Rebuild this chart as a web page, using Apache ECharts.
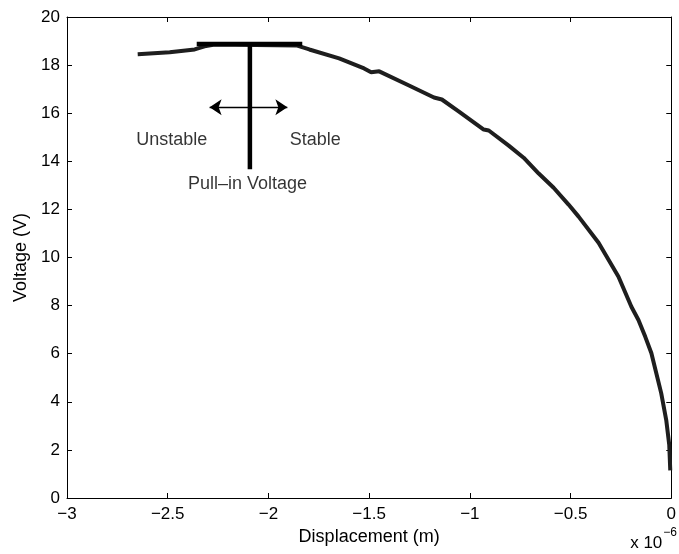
<!DOCTYPE html>
<html><head><meta charset="utf-8">
<script src="https://cdn.jsdelivr.net/npm/echarts@6/dist/echarts.min.js"></script>
<style>html,body{margin:0;padding:0;background:#fff}#c{width:679px;height:554px}</style>
</head><body><div id="c"></div>
<script>
// Displacement in units of 1e-6 m
const dispX = [-2.649,-2.49,-2.366,-2.317,-2.267,-1.861,-1.797,-1.649,-1.525,-1.49,-1.45,-1.302,-1.178,-1.139,-1.054,-0.931,-0.906,-0.807,-0.733,-0.658,-0.584,-0.51,-0.46,-0.361,-0.262,-0.198,-0.163,-0.129,-0.099,-0.05,-0.025,-0.01,-0.005];
const voltY = [18.45,18.53,18.65,18.78,18.86,18.82,18.65,18.28,17.86,17.7,17.74,17.15,16.65,16.57,16.07,15.32,15.28,14.65,14.15,13.49,12.9,12.2,11.7,10.61,9.2,7.95,7.4,6.7,6.03,4.36,3.24,2.2,1.15];
const barX = [-2.356, -1.832];
const barY = 18.875;
const stemX = -2.092;
const stemY = [18.875, 13.67];
const arrowX = [-2.292, -1.906];
const arrowY = 16.25;
const labelText = ['Unstable', 'Stable', 'Pull\u2013in Voltage'];
const labelX = [-2.48, -1.767, -2.104];
const labelY = [14.9, 14.9, 13.07];
const xTicks = {min:-3, max:0, interval:0.5};
const yTicks = {min:0, max:20, interval:2};

const font = 'Liberation Sans, Arial, sans-serif';
const fmt = v => String(+v.toFixed(2)).replace('-', '\u2212');
const axisCommon = {
  axisLine:{show:true, onZero:false, lineStyle:{color:'#000', width:1}},
  axisTick:{show:true, inside:true, length:5, lineStyle:{color:'#000'}},
  splitLine:{show:false}
};
const chart = echarts.init(document.getElementById('c'), null, {renderer:'canvas'});
chart.setOption({
  animation:false,
  backgroundColor:'#fff',
  grid:{left:67, right:6, top:17, bottom:56, containLabel:false},
  xAxis:[
    Object.assign({type:'value', position:'bottom', min:xTicks.min, max:xTicks.max, interval:xTicks.interval,
      name:'Displacement (m)', nameLocation:'middle', nameGap:25,
      nameTextStyle:{fontFamily:font, fontSize:18, color:'#000'},
      axisLabel:{formatter:fmt, fontFamily:font, fontSize:17, color:'#000', margin:8}}, axisCommon),
    Object.assign({type:'value', position:'top', min:xTicks.min, max:xTicks.max, interval:xTicks.interval,
      axisLabel:{show:false}}, axisCommon)
  ],
  yAxis:[
    Object.assign({type:'value', position:'left', min:yTicks.min, max:yTicks.max, interval:yTicks.interval,
      name:'Voltage (V)', nameLocation:'middle', nameGap:37,
      nameTextStyle:{fontFamily:font, fontSize:18, color:'#000'},
      axisLabel:{formatter:fmt, fontFamily:font, fontSize:17, color:'#000', margin:7}}, axisCommon),
    Object.assign({type:'value', position:'right', min:yTicks.min, max:yTicks.max, interval:yTicks.interval,
      axisLabel:{show:false}}, axisCommon)
  ],
  graphic:[{
    type:'text', right:2, bottom:2,
    style:{text:'{a|x 10}{b|\u22126}', rich:{a:{fontFamily:font, fontSize:17, fill:'#000', padding:[8,0,0,0]}, b:{fontFamily:font, fontSize:12, fill:'#000', verticalAlign:'top', padding:[0,0,12,1]}}}
  }],
  series:[
    {type:'line', data:dispX.map((x,i)=>[x, voltY[i]]), showSymbol:false, smooth:false,
      lineStyle:{color:'#1e1e1e', width:4}},
    {type:'line', data:barX.map(x=>[x, barY]), showSymbol:false, lineStyle:{color:'#000', width:4.5}},
    {type:'line', data:stemY.map(y=>[stemX, y]), showSymbol:false, lineStyle:{color:'#000', width:4.5}},
    {type:'lines', coordinateSystem:'cartesian2d', polyline:false,
      data:[{coords:[[ (arrowX[0]+arrowX[1])/2, arrowY],[arrowX[0], arrowY]]},{coords:[[ (arrowX[0]+arrowX[1])/2, arrowY],[arrowX[1], arrowY]]}],
      symbol:['none','arrow'], symbolSize:[9,12], lineStyle:{color:'#000', width:1.3, opacity:1}},
    {type:'scatter', symbolSize:1, itemStyle:{color:'rgba(0,0,0,0)'},
      data:labelText.map((t,i)=>({value:[labelX[i], labelY[i]], label:{show:true, formatter:t, color:'#000'}})),
      label:{position:'inside', fontFamily:font, fontSize:18, color:'#000', textBorderWidth:0}}
  ]
});
</script></body></html>
